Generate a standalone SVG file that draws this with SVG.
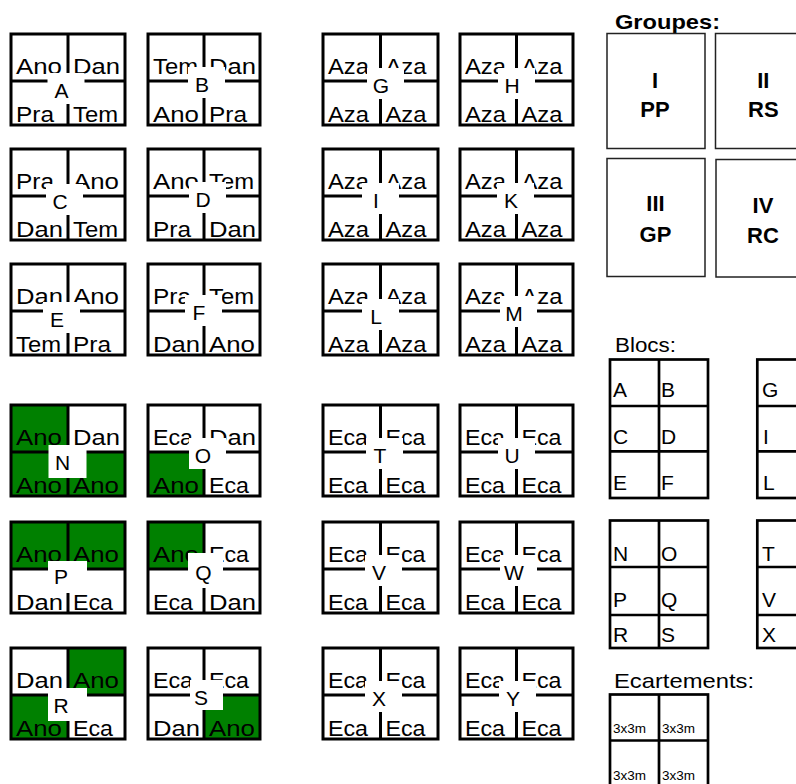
<svg xmlns="http://www.w3.org/2000/svg" width="796" height="784" viewBox="0 0 796 784">
<style>
.bg{fill:#fff}
.b{fill:none;stroke:#000;stroke-width:3}
.ln{stroke:#000;stroke-width:3}
.g{fill:#008000}
.wb{fill:#fff}
.t{font-family:"Liberation Sans",Arial,sans-serif;font-size:22.5px;fill:#000}
.lb{font-family:"Liberation Sans",Arial,sans-serif;font-size:21px;fill:#000;text-anchor:middle}
.gb{fill:none;stroke:#222;stroke-width:1.5}
.gt{font-family:"Liberation Sans",Arial,sans-serif;font-size:22px;font-weight:bold;fill:#000;text-anchor:middle}
.hd{font-family:"Liberation Sans",Arial,sans-serif;fill:#000}
.lg{fill:none;stroke:#000;stroke-width:2.7}
.lt{font-family:"Liberation Sans",Arial,sans-serif;font-size:21px;fill:#000}
.st{font-family:"Liberation Sans",Arial,sans-serif;font-size:13.5px;fill:#000}
</style>
<rect class="bg" x="0" y="0" width="796" height="784"/>

<!-- Row 1 -->
<g id="block-A">
<rect class="b" x="11" y="34" width="114" height="91"/>
<line class="ln" x1="68" y1="34" x2="68" y2="125"/><line class="ln" x1="11" y1="81" x2="125" y2="81"/>
<text class="t" x="16" y="73.5" textLength="46" lengthAdjust="spacingAndGlyphs">Ano</text>
<text class="t" x="73" y="73.5" textLength="47" lengthAdjust="spacingAndGlyphs">Dan</text>
<text class="t" x="16" y="121.5" textLength="38" lengthAdjust="spacingAndGlyphs">Pra</text>
<text class="t" x="73" y="121.5" textLength="45" lengthAdjust="spacingAndGlyphs">Tem</text>
<rect class="wb" x="47.5" y="73" width="37" height="31"/><text class="lb" x="61.5" y="98">A</text>
</g>
<g id="block-B">
<rect class="b" x="148" y="34" width="112" height="91"/>
<line class="ln" x1="204" y1="34" x2="204" y2="125"/><line class="ln" x1="148" y1="81" x2="260" y2="81"/>
<text class="t" x="153" y="73.5" textLength="45" lengthAdjust="spacingAndGlyphs">Tem</text>
<text class="t" x="209" y="73.5" textLength="47" lengthAdjust="spacingAndGlyphs">Dan</text>
<text class="t" x="153" y="121.5" textLength="46" lengthAdjust="spacingAndGlyphs">Ano</text>
<text class="t" x="209" y="121.5" textLength="38" lengthAdjust="spacingAndGlyphs">Pra</text>
<rect class="wb" x="188" y="67" width="37" height="31"/><text class="lb" x="202" y="92">B</text>
</g>
<g id="block-G">
<rect class="b" x="323" y="34" width="115" height="91"/>
<line class="ln" x1="380.5" y1="34" x2="380.5" y2="125"/><line class="ln" x1="323" y1="81" x2="438" y2="81"/>
<text class="t" x="328" y="73.5" textLength="41" lengthAdjust="spacingAndGlyphs">Aza</text>
<text class="t" x="385.5" y="73.5" textLength="41" lengthAdjust="spacingAndGlyphs">Aza</text>
<text class="t" x="328" y="121.5" textLength="41" lengthAdjust="spacingAndGlyphs">Aza</text>
<text class="t" x="385.5" y="121.5" textLength="41" lengthAdjust="spacingAndGlyphs">Aza</text>
<rect class="wb" x="367" y="68" width="37" height="31"/><text class="lb" x="381" y="93">G</text>
</g>
<g id="block-H">
<rect class="b" x="460" y="34" width="113" height="91"/>
<line class="ln" x1="516.5" y1="34" x2="516.5" y2="125"/><line class="ln" x1="460" y1="81" x2="573" y2="81"/>
<text class="t" x="465" y="73.5" textLength="41" lengthAdjust="spacingAndGlyphs">Aza</text>
<text class="t" x="521.5" y="73.5" textLength="41" lengthAdjust="spacingAndGlyphs">Aza</text>
<text class="t" x="465" y="121.5" textLength="41" lengthAdjust="spacingAndGlyphs">Aza</text>
<text class="t" x="521.5" y="121.5" textLength="41" lengthAdjust="spacingAndGlyphs">Aza</text>
<rect class="wb" x="498" y="68" width="37" height="31"/><text class="lb" x="512" y="93">H</text>
</g>

<!-- Row 2 -->
<g id="block-C">
<rect class="b" x="11" y="149" width="114" height="91"/>
<line class="ln" x1="68" y1="149" x2="68" y2="240"/><line class="ln" x1="11" y1="196" x2="125" y2="196"/>
<text class="t" x="16" y="188.5" textLength="38" lengthAdjust="spacingAndGlyphs">Pra</text>
<text class="t" x="73" y="188.5" textLength="46" lengthAdjust="spacingAndGlyphs">Ano</text>
<text class="t" x="16" y="236.5" textLength="47" lengthAdjust="spacingAndGlyphs">Dan</text>
<text class="t" x="73" y="236.5" textLength="45" lengthAdjust="spacingAndGlyphs">Tem</text>
<rect class="wb" x="46" y="184" width="37" height="31"/><text class="lb" x="60" y="209">C</text>
</g>
<g id="block-D">
<rect class="b" x="148" y="149" width="112" height="91"/>
<line class="ln" x1="204" y1="149" x2="204" y2="240"/><line class="ln" x1="148" y1="196" x2="260" y2="196"/>
<text class="t" x="153" y="188.5" textLength="46" lengthAdjust="spacingAndGlyphs">Ano</text>
<text class="t" x="209" y="188.5" textLength="45" lengthAdjust="spacingAndGlyphs">Tem</text>
<text class="t" x="153" y="236.5" textLength="38" lengthAdjust="spacingAndGlyphs">Pra</text>
<text class="t" x="209" y="236.5" textLength="47" lengthAdjust="spacingAndGlyphs">Dan</text>
<rect class="wb" x="189" y="182" width="37" height="31"/><text class="lb" x="203" y="207">D</text>
</g>
<g id="block-I">
<rect class="b" x="323" y="149" width="115" height="91"/>
<line class="ln" x1="380.5" y1="149" x2="380.5" y2="240"/><line class="ln" x1="323" y1="196" x2="438" y2="196"/>
<text class="t" x="328" y="188.5" textLength="41" lengthAdjust="spacingAndGlyphs">Aza</text>
<text class="t" x="385.5" y="188.5" textLength="41" lengthAdjust="spacingAndGlyphs">Aza</text>
<text class="t" x="328" y="236.5" textLength="41" lengthAdjust="spacingAndGlyphs">Aza</text>
<text class="t" x="385.5" y="236.5" textLength="41" lengthAdjust="spacingAndGlyphs">Aza</text>
<rect class="wb" x="362" y="183" width="37" height="31"/><text class="lb" x="376" y="208">I</text>
</g>
<g id="block-K">
<rect class="b" x="460" y="149" width="113" height="91"/>
<line class="ln" x1="516.5" y1="149" x2="516.5" y2="240"/><line class="ln" x1="460" y1="196" x2="573" y2="196"/>
<text class="t" x="465" y="188.5" textLength="41" lengthAdjust="spacingAndGlyphs">Aza</text>
<text class="t" x="521.5" y="188.5" textLength="41" lengthAdjust="spacingAndGlyphs">Aza</text>
<text class="t" x="465" y="236.5" textLength="41" lengthAdjust="spacingAndGlyphs">Aza</text>
<text class="t" x="521.5" y="236.5" textLength="41" lengthAdjust="spacingAndGlyphs">Aza</text>
<rect class="wb" x="497" y="183" width="37" height="31"/><text class="lb" x="511" y="208">K</text>
</g>

<!-- Row 3 -->
<g id="block-E">
<rect class="b" x="11" y="264" width="114" height="91"/>
<line class="ln" x1="68" y1="264" x2="68" y2="355"/><line class="ln" x1="11" y1="311" x2="125" y2="311"/>
<text class="t" x="16" y="303.5" textLength="47" lengthAdjust="spacingAndGlyphs">Dan</text>
<text class="t" x="73" y="303.5" textLength="46" lengthAdjust="spacingAndGlyphs">Ano</text>
<text class="t" x="16" y="351.5" textLength="45" lengthAdjust="spacingAndGlyphs">Tem</text>
<text class="t" x="73" y="351.5" textLength="38" lengthAdjust="spacingAndGlyphs">Pra</text>
<rect class="wb" x="43" y="302" width="37" height="31"/><text class="lb" x="57" y="327">E</text>
</g>
<g id="block-F">
<rect class="b" x="148" y="264" width="112" height="91"/>
<line class="ln" x1="204" y1="264" x2="204" y2="355"/><line class="ln" x1="148" y1="311" x2="260" y2="311"/>
<text class="t" x="153" y="303.5" textLength="38" lengthAdjust="spacingAndGlyphs">Pra</text>
<text class="t" x="209" y="303.5" textLength="45" lengthAdjust="spacingAndGlyphs">Tem</text>
<text class="t" x="153" y="351.5" textLength="47" lengthAdjust="spacingAndGlyphs">Dan</text>
<text class="t" x="209" y="351.5" textLength="46" lengthAdjust="spacingAndGlyphs">Ano</text>
<rect class="wb" x="185" y="295" width="37" height="31"/><text class="lb" x="199" y="320">F</text>
</g>
<g id="block-L">
<rect class="b" x="323" y="264" width="115" height="91"/>
<line class="ln" x1="380.5" y1="264" x2="380.5" y2="355"/><line class="ln" x1="323" y1="311" x2="438" y2="311"/>
<text class="t" x="328" y="303.5" textLength="41" lengthAdjust="spacingAndGlyphs">Aza</text>
<text class="t" x="385.5" y="303.5" textLength="41" lengthAdjust="spacingAndGlyphs">Aza</text>
<text class="t" x="328" y="351.5" textLength="41" lengthAdjust="spacingAndGlyphs">Aza</text>
<text class="t" x="385.5" y="351.5" textLength="41" lengthAdjust="spacingAndGlyphs">Aza</text>
<rect class="wb" x="362" y="299" width="37" height="31"/><text class="lb" x="376" y="324">L</text>
</g>
<g id="block-M">
<rect class="b" x="460" y="264" width="113" height="91"/>
<line class="ln" x1="516.5" y1="264" x2="516.5" y2="355"/><line class="ln" x1="460" y1="311" x2="573" y2="311"/>
<text class="t" x="465" y="303.5" textLength="41" lengthAdjust="spacingAndGlyphs">Aza</text>
<text class="t" x="521.5" y="303.5" textLength="41" lengthAdjust="spacingAndGlyphs">Aza</text>
<text class="t" x="465" y="351.5" textLength="41" lengthAdjust="spacingAndGlyphs">Aza</text>
<text class="t" x="521.5" y="351.5" textLength="41" lengthAdjust="spacingAndGlyphs">Aza</text>
<rect class="wb" x="500" y="296" width="37" height="31"/><text class="lb" x="514" y="321">M</text>
</g>

<!-- Row 4 -->
<g id="block-N">
<rect class="g" x="11" y="405" width="57" height="47"/>
<rect class="g" x="11" y="452" width="57" height="44"/>
<rect class="g" x="68" y="452" width="57" height="44"/>
<rect class="b" x="11" y="405" width="114" height="91"/>
<line class="ln" x1="68" y1="405" x2="68" y2="496"/><line class="ln" x1="11" y1="452" x2="125" y2="452"/>
<text class="t" x="16" y="444.5" textLength="46" lengthAdjust="spacingAndGlyphs">Ano</text>
<text class="t" x="73" y="444.5" textLength="47" lengthAdjust="spacingAndGlyphs">Dan</text>
<text class="t" x="16" y="492.5" textLength="46" lengthAdjust="spacingAndGlyphs">Ano</text>
<text class="t" x="73" y="492.5" textLength="46" lengthAdjust="spacingAndGlyphs">Ano</text>
<rect class="wb" x="48.5" y="445" width="38" height="33"/><text class="lb" x="62.5" y="470">N</text>
</g>
<g id="block-O">
<rect class="g" x="148" y="452" width="56" height="44"/>
<rect class="b" x="148" y="405" width="112" height="91"/>
<line class="ln" x1="204" y1="405" x2="204" y2="496"/><line class="ln" x1="148" y1="452" x2="260" y2="452"/>
<text class="t" x="153" y="444.5" textLength="40" lengthAdjust="spacingAndGlyphs">Eca</text>
<text class="t" x="209" y="444.5" textLength="47" lengthAdjust="spacingAndGlyphs">Dan</text>
<text class="t" x="153" y="492.5" textLength="46" lengthAdjust="spacingAndGlyphs">Ano</text>
<text class="t" x="209" y="492.5" textLength="40" lengthAdjust="spacingAndGlyphs">Eca</text>
<rect class="wb" x="189" y="438" width="37" height="31"/><text class="lb" x="203" y="463">O</text>
</g>
<g id="block-T">
<rect class="b" x="323" y="405" width="115" height="91"/>
<line class="ln" x1="380.5" y1="405" x2="380.5" y2="496"/><line class="ln" x1="323" y1="452" x2="438" y2="452"/>
<text class="t" x="328" y="444.5" textLength="40" lengthAdjust="spacingAndGlyphs">Eca</text>
<text class="t" x="385.5" y="444.5" textLength="40" lengthAdjust="spacingAndGlyphs">Eca</text>
<text class="t" x="328" y="492.5" textLength="40" lengthAdjust="spacingAndGlyphs">Eca</text>
<text class="t" x="385.5" y="492.5" textLength="40" lengthAdjust="spacingAndGlyphs">Eca</text>
<rect class="wb" x="366" y="438" width="37" height="31"/><text class="lb" x="380" y="463">T</text>
</g>
<g id="block-U">
<rect class="b" x="460" y="405" width="113" height="91"/>
<line class="ln" x1="516.5" y1="405" x2="516.5" y2="496"/><line class="ln" x1="460" y1="452" x2="573" y2="452"/>
<text class="t" x="465" y="444.5" textLength="40" lengthAdjust="spacingAndGlyphs">Eca</text>
<text class="t" x="521.5" y="444.5" textLength="40" lengthAdjust="spacingAndGlyphs">Eca</text>
<text class="t" x="465" y="492.5" textLength="40" lengthAdjust="spacingAndGlyphs">Eca</text>
<text class="t" x="521.5" y="492.5" textLength="40" lengthAdjust="spacingAndGlyphs">Eca</text>
<rect class="wb" x="498" y="438" width="37" height="31"/><text class="lb" x="512" y="463">U</text>
</g>

<!-- Row 5 -->
<g id="block-P">
<rect class="g" x="11" y="522" width="57" height="47"/>
<rect class="g" x="68" y="522" width="57" height="47"/>
<rect class="b" x="11" y="522" width="114" height="91"/>
<line class="ln" x1="68" y1="522" x2="68" y2="613"/><line class="ln" x1="11" y1="569" x2="125" y2="569"/>
<text class="t" x="16" y="561.5" textLength="46" lengthAdjust="spacingAndGlyphs">Ano</text>
<text class="t" x="73" y="561.5" textLength="46" lengthAdjust="spacingAndGlyphs">Ano</text>
<text class="t" x="16" y="609.5" textLength="47" lengthAdjust="spacingAndGlyphs">Dan</text>
<text class="t" x="73" y="609.5" textLength="40" lengthAdjust="spacingAndGlyphs">Eca</text>
<rect class="wb" x="48" y="561" width="39" height="32"/><text class="lb" x="61" y="584">P</text>
</g>
<g id="block-Q">
<rect class="g" x="148" y="522" width="56" height="47"/>
<rect class="b" x="148" y="522" width="112" height="91"/>
<line class="ln" x1="204" y1="522" x2="204" y2="613"/><line class="ln" x1="148" y1="569" x2="260" y2="569"/>
<text class="t" x="153" y="561.5" textLength="46" lengthAdjust="spacingAndGlyphs">Ano</text>
<text class="t" x="209" y="561.5" textLength="40" lengthAdjust="spacingAndGlyphs">Eca</text>
<text class="t" x="153" y="609.5" textLength="40" lengthAdjust="spacingAndGlyphs">Eca</text>
<text class="t" x="209" y="609.5" textLength="47" lengthAdjust="spacingAndGlyphs">Dan</text>
<rect class="wb" x="188" y="553" width="35" height="35"/><text class="lb" x="203.5" y="580">Q</text>
</g>
<g id="block-V">
<rect class="b" x="323" y="522" width="115" height="91"/>
<line class="ln" x1="380.5" y1="522" x2="380.5" y2="613"/><line class="ln" x1="323" y1="569" x2="438" y2="569"/>
<text class="t" x="328" y="561.5" textLength="40" lengthAdjust="spacingAndGlyphs">Eca</text>
<text class="t" x="385.5" y="561.5" textLength="40" lengthAdjust="spacingAndGlyphs">Eca</text>
<text class="t" x="328" y="609.5" textLength="40" lengthAdjust="spacingAndGlyphs">Eca</text>
<text class="t" x="385.5" y="609.5" textLength="40" lengthAdjust="spacingAndGlyphs">Eca</text>
<rect class="wb" x="365" y="555" width="37" height="31"/><text class="lb" x="379" y="580">V</text>
</g>
<g id="block-W">
<rect class="b" x="460" y="522" width="113" height="91"/>
<line class="ln" x1="516.5" y1="522" x2="516.5" y2="613"/><line class="ln" x1="460" y1="569" x2="573" y2="569"/>
<text class="t" x="465" y="561.5" textLength="40" lengthAdjust="spacingAndGlyphs">Eca</text>
<text class="t" x="521.5" y="561.5" textLength="40" lengthAdjust="spacingAndGlyphs">Eca</text>
<text class="t" x="465" y="609.5" textLength="40" lengthAdjust="spacingAndGlyphs">Eca</text>
<text class="t" x="521.5" y="609.5" textLength="40" lengthAdjust="spacingAndGlyphs">Eca</text>
<rect class="wb" x="500" y="555" width="37" height="31"/><text class="lb" x="514" y="580">W</text>
</g>

<!-- Row 6 -->
<g id="block-R">
<rect class="g" x="68" y="648" width="57" height="47"/>
<rect class="g" x="11" y="695" width="57" height="44"/>
<rect class="b" x="11" y="648" width="114" height="91"/>
<line class="ln" x1="68" y1="648" x2="68" y2="739"/><line class="ln" x1="11" y1="695" x2="125" y2="695"/>
<text class="t" x="16" y="687.5" textLength="47" lengthAdjust="spacingAndGlyphs">Dan</text>
<text class="t" x="73" y="687.5" textLength="46" lengthAdjust="spacingAndGlyphs">Ano</text>
<text class="t" x="16" y="735.5" textLength="46" lengthAdjust="spacingAndGlyphs">Ano</text>
<text class="t" x="73" y="735.5" textLength="40" lengthAdjust="spacingAndGlyphs">Eca</text>
<rect class="wb" x="48" y="688" width="39" height="33"/><text class="lb" x="61" y="713">R</text>
</g>
<g id="block-S">
<rect class="g" x="204" y="695" width="56" height="44"/>
<rect class="b" x="148" y="648" width="112" height="91"/>
<line class="ln" x1="204" y1="648" x2="204" y2="739"/><line class="ln" x1="148" y1="695" x2="260" y2="695"/>
<text class="t" x="153" y="687.5" textLength="40" lengthAdjust="spacingAndGlyphs">Eca</text>
<text class="t" x="209" y="687.5" textLength="40" lengthAdjust="spacingAndGlyphs">Eca</text>
<text class="t" x="153" y="735.5" textLength="47" lengthAdjust="spacingAndGlyphs">Dan</text>
<text class="t" x="209" y="735.5" textLength="46" lengthAdjust="spacingAndGlyphs">Ano</text>
<rect class="wb" x="190" y="680" width="33" height="30"/><text class="lb" x="201" y="705">S</text>
</g>
<g id="block-X">
<rect class="b" x="323" y="648" width="115" height="91"/>
<line class="ln" x1="380.5" y1="648" x2="380.5" y2="739"/><line class="ln" x1="323" y1="695" x2="438" y2="695"/>
<text class="t" x="328" y="687.5" textLength="40" lengthAdjust="spacingAndGlyphs">Eca</text>
<text class="t" x="385.5" y="687.5" textLength="40" lengthAdjust="spacingAndGlyphs">Eca</text>
<text class="t" x="328" y="735.5" textLength="40" lengthAdjust="spacingAndGlyphs">Eca</text>
<text class="t" x="385.5" y="735.5" textLength="40" lengthAdjust="spacingAndGlyphs">Eca</text>
<rect class="wb" x="365" y="681" width="37" height="31"/><text class="lb" x="379" y="706">X</text>
</g>
<g id="block-Y">
<rect class="b" x="460" y="648" width="113" height="91"/>
<line class="ln" x1="516.5" y1="648" x2="516.5" y2="739"/><line class="ln" x1="460" y1="695" x2="573" y2="695"/>
<text class="t" x="465" y="687.5" textLength="40" lengthAdjust="spacingAndGlyphs">Eca</text>
<text class="t" x="521.5" y="687.5" textLength="40" lengthAdjust="spacingAndGlyphs">Eca</text>
<text class="t" x="465" y="735.5" textLength="40" lengthAdjust="spacingAndGlyphs">Eca</text>
<text class="t" x="521.5" y="735.5" textLength="40" lengthAdjust="spacingAndGlyphs">Eca</text>
<rect class="wb" x="499" y="681" width="37" height="31"/><text class="lb" x="513" y="706">Y</text>
</g>

<!-- Groupes legend -->
<g id="groupes">
<text class="hd" x="615" y="29" font-size="21" font-weight="bold" textLength="105" lengthAdjust="spacingAndGlyphs">Groupes:</text>
<rect class="gb" x="607" y="33.5" width="98" height="115"/>
<text class="gt" x="655" y="87.5">I</text><text class="gt" x="655" y="116.7">PP</text>
<rect class="gb" x="715.5" y="33.5" width="98" height="115"/>
<text class="gt" x="763.3" y="87.5">II</text><text class="gt" x="763.3" y="116.7">RS</text>
<rect class="gb" x="607" y="158.5" width="98" height="118"/>
<text class="gt" x="655.5" y="210.7">III</text><text class="gt" x="655.5" y="241.7">GP</text>
<rect class="gb" x="716" y="159.5" width="98" height="117.5"/>
<text class="gt" x="763" y="212.7">IV</text><text class="gt" x="763" y="242.7">RC</text>
</g>

<!-- Blocs legend -->
<g id="blocs">
<text class="hd" x="615" y="351.7" font-size="20" textLength="61" lengthAdjust="spacingAndGlyphs">Blocs:</text>
<g id="blocs-AF">
<rect class="lg" x="610" y="359.5" width="98" height="138.5"/>
<line class="lg" x1="659" y1="359.5" x2="659" y2="498"/>
<line class="lg" x1="610" y1="406" x2="708" y2="406"/>
<line class="lg" x1="610" y1="451.3" x2="708" y2="451.3"/>
<text class="lt" x="613" y="397">A</text><text class="lt" x="661" y="397">B</text>
<text class="lt" x="613" y="443.5">C</text><text class="lt" x="661" y="443.5">D</text>
<text class="lt" x="613" y="489.5">E</text><text class="lt" x="661" y="489.5">F</text>
</g>
<g id="blocs-GL">
<rect class="lg" x="757.3" y="359.5" width="98" height="138.5"/>
<line class="lg" x1="806" y1="359.5" x2="806" y2="498"/>
<line class="lg" x1="757.3" y1="406" x2="855" y2="406"/>
<line class="lg" x1="757.3" y1="451.3" x2="855" y2="451.3"/>
<text class="lt" x="762" y="397">G</text>
<text class="lt" x="763" y="443.5">I</text>
<text class="lt" x="763" y="489.5">L</text>
</g>
<g id="blocs-NS">
<rect class="lg" x="610" y="520.5" width="98" height="127.5"/>
<line class="lg" x1="659" y1="520.5" x2="659" y2="648"/>
<line class="lg" x1="610" y1="567" x2="708" y2="567"/>
<line class="lg" x1="610" y1="615" x2="708" y2="615"/>
<text class="lt" x="613" y="561">N</text><text class="lt" x="661" y="561">O</text>
<text class="lt" x="613" y="607">P</text><text class="lt" x="661" y="607">Q</text>
<text class="lt" x="613" y="642">R</text><text class="lt" x="661" y="642">S</text>
</g>
<g id="blocs-TX">
<rect class="lg" x="757.3" y="520.5" width="98" height="127.5"/>
<line class="lg" x1="806" y1="520.5" x2="806" y2="648"/>
<line class="lg" x1="757.3" y1="567" x2="855" y2="567"/>
<line class="lg" x1="757.3" y1="615" x2="855" y2="615"/>
<text class="lt" x="762" y="561">T</text>
<text class="lt" x="762" y="607">V</text>
<text class="lt" x="762" y="642">X</text>
</g>
</g>

<!-- Ecartements legend -->
<g id="ecartements">
<text class="hd" x="614" y="688.3" font-size="21" textLength="140" lengthAdjust="spacingAndGlyphs">Ecartements:</text>
<rect class="lg" x="610" y="694.5" width="98" height="92"/>
<line class="lg" x1="659" y1="694.5" x2="659" y2="786.5"/>
<line class="lg" x1="610" y1="740.5" x2="708" y2="740.5"/>
<text class="st" x="613" y="733.3">3x3m</text><text class="st" x="662" y="733.3">3x3m</text>
<text class="st" x="613" y="780">3x3m</text><text class="st" x="662" y="780">3x3m</text>
</g>
</svg>
